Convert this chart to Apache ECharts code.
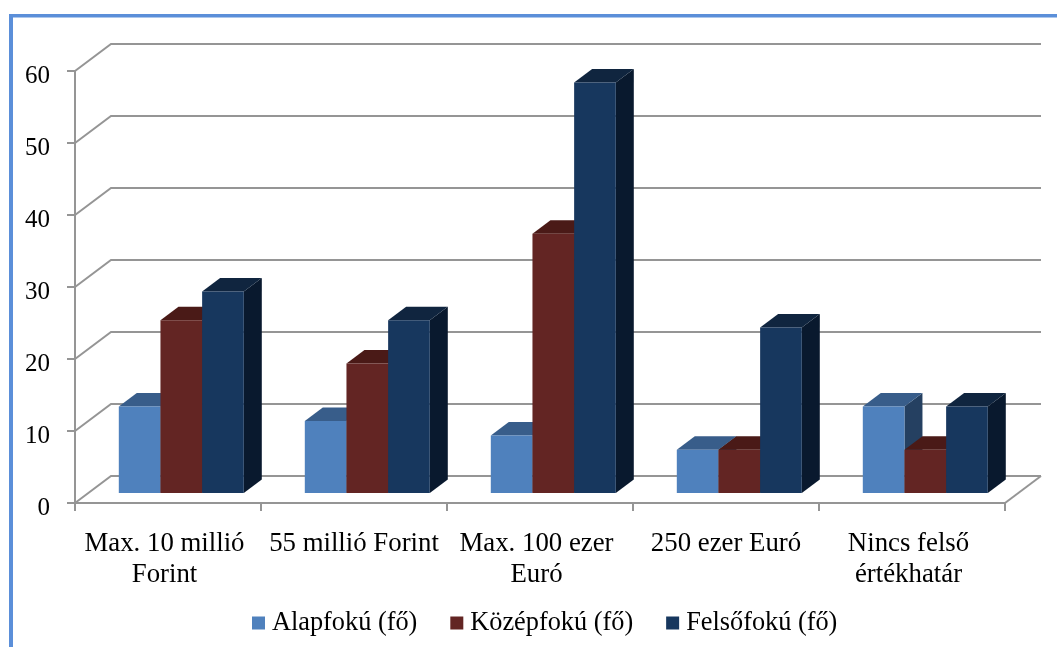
<!DOCTYPE html>
<html>
<head>
<meta charset="utf-8">
<style>
  html, body { margin: 0; padding: 0; background: #fff; }
  #chart { width: 1057px; height: 647px; }
</style>
<script src="https://cdn.jsdelivr.net/npm/echarts@6/dist/echarts.min.js"></script>
</head>
<body>
<div id="chart"></div>
<script>
const categories = ['Max. 10 millió\nForint', '55 millió Forint', 'Max. 100 ezer\nEuró', '250 ezer Euró', 'Nincs felső\nértékhatár'];
const alapfoku = [12, 10, 8, 6, 12];
const kozepfoku = [24, 18, 36, 6, 6];
const felsofoku = [28, 24, 57, 23, 12];
const yTicks = [0, 10, 20, 30, 40, 50, 60];

const seriesNames = ['Alapfokú (fő)', 'Középfokú (fő)', 'Felsőfokú (fő)'];
const seriesValues = [alapfoku, kozepfoku, felsofoku];
const fills = [
  { front: '#4F81BD', top: '#385D8A', side: '#254061' },
  { front: '#632523', top: '#4A1A17', side: '#37120F' },
  { front: '#17375E', top: '#10253F', side: '#09192E' },
];

const font = '"Liberation Serif", "Times New Roman", serif';
const lineColor = '#959595';
// 3D look: wall depth, and where the bars stand on the floor
const WALL_DX = 36, WALL_DY = -27;
const BAR_DX = 18, BAR_DY = -13.5;
const FLOOR_DX = 13.3, FLOOR_DY = -10;

const chart = echarts.init(document.getElementById('chart'));

function renderWall(params, api) {
  const v = api.value(0);
  const left = params.coordSys.x;
  const right = left + params.coordSys.width;
  const y = api.coord([0, v])[1];
  const style = { stroke: lineColor, lineWidth: 2, fill: null };
  const children = [{
    type: 'polyline',
    shape: { points: [[left, y], [left + WALL_DX, y + WALL_DY], [right + WALL_DX, y + WALL_DY]] },
    style,
  }];
  if (v === 0) {
    children.push({
      type: 'line',
      shape: { x1: right, y1: y, x2: right + WALL_DX, y2: y + WALL_DY },
      style,
    });
  }
  return { type: 'group', children };
}

function renderBar(idx) {
  return function (params, api) {
    const top = api.coord([api.value(0), api.value(1)]);
    const base = api.coord([api.value(0), 0]);
    const w = api.size([1, 0])[0] * 0.224;
    const x0 = top[0] + FLOOR_DX + (idx - 1.5) * w;
    const x1 = x0 + w;
    const y0 = top[1] + FLOOR_DY;
    const y1 = base[1] + FLOOR_DY;
    const c = fills[idx];
    return {
      type: 'group',
      children: [
        {
          type: 'polygon',
          shape: { points: [[x1, y0], [x1 + BAR_DX, y0 + BAR_DY], [x1 + BAR_DX, y1 + BAR_DY], [x1, y1]] },
          style: { fill: c.side },
        },
        {
          type: 'polygon',
          shape: { points: [[x0, y0], [x0 + BAR_DX, y0 + BAR_DY], [x1 + BAR_DX, y0 + BAR_DY], [x1, y0]] },
          style: { fill: c.top },
        },
        {
          type: 'rect',
          shape: { x: x0, y: y0, width: w, height: y1 - y0 },
          style: { fill: c.front },
        },
      ],
    };
  };
}

// two-line labels sit a little left of the band centre in the original
function catLabel(v) {
  if (!v.includes('\n')) return v;
  return v.split('\n').map((l) => `{m|${l}}`).join('\n');
}

chart.setOption({
  animation: false,
  backgroundColor: '#fff',
  graphic: [
    { type: 'rect', shape: { x: 9, y: 14, width: 1048, height: 3.5 }, style: { fill: '#5B8FD9' }, silent: true },
    { type: 'rect', shape: { x: 9, y: 14, width: 4, height: 633 }, style: { fill: '#5B8FD9' }, silent: true },
  ],
  grid: { left: 75, top: 71, width: 930, height: 432 },
  legend: {
    data: seriesNames,
    left: 247,
    top: 605,
    icon: 'rect',
    itemWidth: 13,
    itemHeight: 13,
    itemGap: 33,
    selectedMode: false,
    textStyle: { fontFamily: font, fontSize: 26.3, color: '#000', padding: [0, 0, 0, 2] },
  },
  xAxis: {
    type: 'category',
    data: categories,
    axisLine: { lineStyle: { color: lineColor, width: 2 } },
    axisTick: { show: true, length: 8, lineStyle: { color: lineColor, width: 2 } },
    axisLabel: {
      fontFamily: font, fontSize: 26.8, color: '#000', margin: 25, lineHeight: 31, interval: 0,
      formatter: catLabel,
      rich: { m: { fontFamily: font, fontSize: 26.8, color: '#000', lineHeight: 31, padding: [0, 7, 0, 0] } },
    },
  },
  yAxis: {
    type: 'value',
    min: 0,
    max: 60,
    interval: 10,
    axisLine: { show: true, lineStyle: { color: lineColor, width: 2 } },
    axisTick: { show: true, length: 8, lineStyle: { color: lineColor, width: 2 } },
    axisLabel: { fontFamily: font, fontSize: 25, color: '#000', margin: 25, verticalAlign: 'top', lineHeight: 11 },
    splitLine: { show: false },
  },
  series: [
    {
      type: 'custom',
      name: 'walls',
      silent: true,
      clip: false,
      z: 1,
      renderItem: renderWall,
      encode: { y: 0 },
      data: yTicks.map((v) => [v]),
    },
    ...seriesNames.map((name, idx) => ({
      type: 'custom',
      name,
      clip: false,
      z: 2 + idx,
      itemStyle: { color: fills[idx].front },
      renderItem: renderBar(idx),
      encode: { x: 0, y: 1 },
      data: seriesValues[idx].map((v, i) => [i, v]),
    })),
  ],
});
</script>
</body>
</html>
